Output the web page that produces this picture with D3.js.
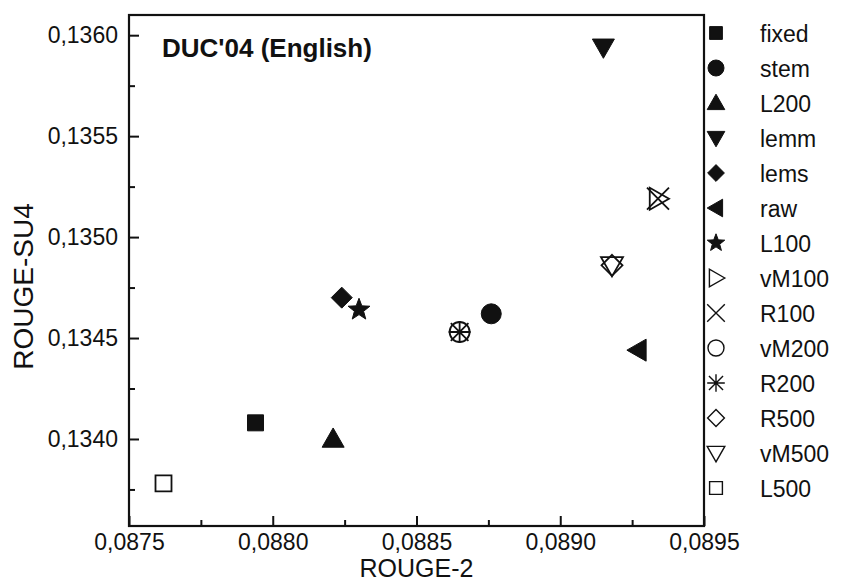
<!DOCTYPE html>
<html>
<head>
<meta charset="utf-8">
<script src="https://cdn.jsdelivr.net/npm/d3@7"></script>
<style>
  body { margin: 0; background: #fff; }
  svg text { font-family: "Liberation Sans", Arial, sans-serif; fill: #111; }
</style>
</head>
<body>
<svg width="848" height="582"></svg>
<script>
// methods and their scores
const names  = ['fixed', 'stem', 'L200', 'lemm', 'lems', 'raw', 'L100', 'vM100', 'R100', 'vM200', 'R200', 'R500', 'vM500', 'L500'];
const rouge2 = [0.08794, 0.08876, 0.08821, 0.08915, 0.08824, 0.08927, 0.08830, 0.08934, 0.08934, 0.08865, 0.08865, 0.08918, 0.08918, 0.08762];
const su4    = [0.13408, 0.13462, 0.13400, 0.13594, 0.13470, 0.13444, 0.13464, 0.13519, 0.13519, 0.13453, 0.13453, 0.13486, 0.13486, 0.13378];
const shapes = ['square', 'circle', 'up', 'down', 'diamond', 'left', 'star', 'right', 'times', 'circle', 'asterisk', 'diamond', 'down', 'square'];
const filled = [true, true, true, true, true, true, true, false, false, false, false, false, false, false];

const xTicks = [0.0875, 0.0880, 0.0885, 0.0890, 0.0895];
const yTicks = [0.1340, 0.1345, 0.1350, 0.1355, 0.1360];

const margin = { top: 15, right: 144, bottom: 56, left: 129 };
const width = 848 - margin.left - margin.right;
const height = 582 - margin.top - margin.bottom;

const svg = d3.select('svg');
const g = svg.append('g').attr('transform', `translate(${margin.left},${margin.top})`);

const x = d3.scaleLinear().domain([0.0875, 0.0895]).range([0, width]);
const y = d3.scaleLinear().domain([0.133569, 0.1361]).range([height, 0]);

const fmt = v => d3.format('.4f')(v).replace('.', ',');

// shape paths, s = half width
function shapePath(type, s) {
  const p = d3.path();
  if (type === 'square') {
    p.rect(-s, -s, 2 * s, 2 * s);
  } else if (type === 'circle') {
    p.arc(0, 0, s, 0, 2 * Math.PI);
  } else if (type === 'up' || type === 'down' || type === 'left' || type === 'right') {
    const h = s;
    let pts;
    if (type === 'up') pts = [[0, -h], [s, h * 0.75], [-s, h * 0.75]];
    if (type === 'down') pts = [[0, h], [s, -h * 0.75], [-s, -h * 0.75]];
    if (type === 'left') pts = [[-h, 0], [h * 0.75, -s], [h * 0.75, s]];
    if (type === 'right') pts = [[h, 0], [-h * 0.75, -s], [-h * 0.75, s]];
    p.moveTo(...pts[0]); p.lineTo(...pts[1]); p.lineTo(...pts[2]); p.closePath();
  } else if (type === 'diamond') {
    p.moveTo(0, -s); p.lineTo(s, 0); p.lineTo(0, s); p.lineTo(-s, 0); p.closePath();
  } else if (type === 'star') {
    for (let i = 0; i < 10; i++) {
      const r = i % 2 === 0 ? s : s * 0.42;
      const a = -Math.PI / 2 + i * Math.PI / 5;
      if (i === 0) p.moveTo(r * Math.cos(a), r * Math.sin(a));
      else p.lineTo(r * Math.cos(a), r * Math.sin(a));
    }
    p.closePath();
  } else if (type === 'times') {
    p.moveTo(-s, -s); p.lineTo(s, s); p.moveTo(s, -s); p.lineTo(-s, s);
  } else if (type === 'asterisk') {
    const d = s * 0.8;
    p.moveTo(-s, 0); p.lineTo(s, 0); p.moveTo(0, -s); p.lineTo(0, s);
    p.moveTo(-d, -d); p.lineTo(d, d); p.moveTo(d, -d); p.lineTo(-d, d);
  }
  return p.toString();
}

const sizeFor = t => ({ square: 8, circle: 10, up: 11, down: 11, left: 11, right: 11, diamond: 10.5, star: 11.5, times: 11, asterisk: 11 })[t];

// axes: minor ticks then major ticks, drawn inward
const minorX = xTicks.slice(0, -1).map(v => v + 0.00025);
const minorY = [0.13375].concat(yTicks.slice(0, -1).map(v => v + 0.00025));

g.append('g').attr('transform', `translate(0,${height})`)
  .call(d3.axisBottom(x).tickValues(minorX).tickSize(-6).tickFormat(''))
  .call(a => a.select('.domain').remove());
g.append('g').call(d3.axisLeft(y).tickValues(minorY).tickSize(-6).tickFormat(''))
  .call(a => a.select('.domain').remove());

g.append('g').attr('class', 'axis x').attr('transform', `translate(0,${height})`)
  .call(d3.axisBottom(x).tickValues(xTicks).tickSize(-10).tickPadding(8).tickFormat(fmt))
  .call(a => a.select('.domain').remove());
g.append('g').attr('class', 'axis y')
  .call(d3.axisLeft(y).tickValues(yTicks).tickSize(-10).tickPadding(11).tickFormat(fmt))
  .call(a => a.select('.domain').remove());

g.selectAll('.tick line').attr('stroke', '#111').attr('stroke-width', 2);
g.selectAll('.tick text')
  .attr('font-size', 23).attr('font-family', '"Liberation Sans", Arial, sans-serif')
  .style('font-size', '23px').attr('fill', '#111');

// frame
g.append('rect').attr('width', width).attr('height', height)
  .attr('fill', 'none').attr('stroke', '#111').attr('stroke-width', 2.2);

// points
names.forEach((n, i) => {
  const t = shapes[i];
  g.append('path')
    .attr('d', shapePath(t, sizeFor(t)))
    .attr('transform', `translate(${x(rouge2[i])},${y(su4[i])})`)
    .attr('fill', filled[i] ? '#111' : 'none')
    .attr('stroke', '#111')
    .attr('stroke-width', filled[i] ? 1 : 1.8);
});

// title
g.append('text').attr('x', 33).attr('y', 42)
  .style('font-size', '26px').style('font-weight', 'bold')
  .text("DUC'04 (English)");

// axis titles
svg.append('text').attr('x', margin.left + width / 2).attr('y', 577)
  .attr('text-anchor', 'middle').style('font-size', '25px').text('ROUGE-2');
svg.append('text').attr('transform', `translate(33,${margin.top + height / 2 + 16}) rotate(-90)`)
  .attr('text-anchor', 'middle').style('font-size', '28px').text('ROUGE-SU4');

// legend
const legend = svg.append('g').attr('transform', 'translate(716,33)');
names.forEach((n, i) => {
  const t = shapes[i];
  const row = legend.append('g').attr('transform', `translate(0,${i * 35})`);
  row.append('path')
    .attr('d', shapePath(t, sizeFor(t) * 0.8))
    .attr('fill', filled[i] ? '#111' : 'none')
    .attr('stroke', '#111')
    .attr('stroke-width', filled[i] ? 1 : 1.4);
  row.append('text').attr('x', 44).attr('y', 8.5)
    .style('font-size', '23px').text(n);
});
</script>
</body>
</html>
